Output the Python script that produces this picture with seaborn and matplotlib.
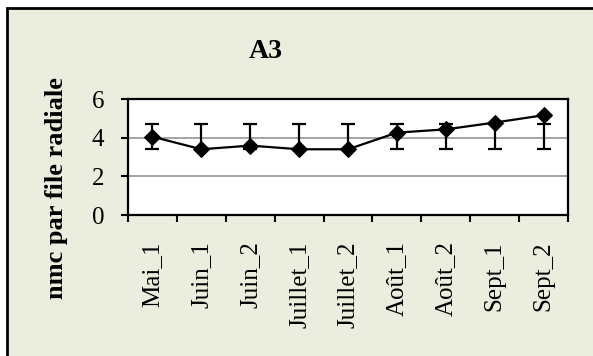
import numpy as np
import pandas as pd
import seaborn as sns
import matplotlib.pyplot as plt
from matplotlib.patches import Rectangle
from matplotlib.ticker import FixedLocator, NullFormatter

# data
periods = ['Mai_1', 'Juin_1', 'Juin_2', 'Juillet_1', 'Juillet_2',
           'Août_1', 'Août_2', 'Sept_1', 'Sept_2']
nmc = [4.05, 3.40, 3.59, 3.40, 3.40, 4.26, 4.43, 4.78, 5.16]
err_low = [3.41, 3.41, 3.41, 3.41, 3.41, 3.41, 3.41, 3.41, 3.41]
err_high = [4.71, 4.71, 4.71, 4.71, 4.71, 4.71, 4.71, 4.71, 4.71]
yticks = [0, 2, 4, 6]

df = pd.DataFrame({'pos': np.arange(len(periods)), 'nmc': nmc,
                   'lo': err_low, 'hi': err_high})

sns.set_style('white')
plt.rcParams['font.family'] = ['Liberation Serif', 'DejaVu Serif']
plt.rcParams['text.color'] = 'black'
plt.rcParams['xtick.color'] = 'black'
plt.rcParams['ytick.color'] = 'black'

W, H = 593, 356
fig = plt.figure(figsize=(W / 100, H / 100), dpi=100)
fig.patch.set_facecolor('white')

# chart area frame (cut off on the right and bottom)
bg = '#EBEEDF'
fig.patches.append(Rectangle((6.5 / W, -0.2), 1.2, 1 - 8 / H + 0.2,
                             transform=fig.transFigure, facecolor=bg,
                             edgecolor='black', linewidth=2, zorder=-5))

ax = fig.add_axes([128 / W, 1 - 215 / H, 440 / W, 116 / H])
ax.set_zorder(2)
ax.set_facecolor('white')

# error bars (min/max span)
mid = (df['lo'] + df['hi']) / 2
half = (df['hi'] - df['lo']) / 2
ax.errorbar(df['pos'], mid, yerr=half, fmt='none', ecolor='black',
            elinewidth=1.6, capsize=4.8, capthick=1.6, zorder=3)

sns.lineplot(data=df, x='pos', y='nmc', ax=ax, color='black', linewidth=1.6,
             marker='D', markersize=8, markeredgecolor='black',
             markerfacecolor='black', sort=False, zorder=4)

ax.set_xlim(-0.5, len(periods) - 0.5)
ax.set_ylim(0, 6)
ax.set_yticks(yticks)
ax.set_yticklabels([str(t) for t in yticks])
for t in [2, 4]:
    ax.axhline(t, color='#8c8c8c', linewidth=1.1, zorder=1)

ax.set_xticks(df['pos'])
ax.set_xticklabels(periods, rotation=90)
ax.xaxis.set_minor_locator(FixedLocator(np.arange(-0.5, len(periods), 1)))
ax.xaxis.set_minor_formatter(NullFormatter())
ax.tick_params(axis='x', which='major', length=0, pad=19, labelsize=18)
ax.tick_params(axis='x', which='minor', length=5, width=1.5, direction='out',
               bottom=True, color='black')
ax.tick_params(axis='y', length=5, width=1.5, direction='out', left=True,
               pad=12, labelsize=18, color='black')
ax.set_xlabel('')
ax.set_ylabel('')
for s in ax.spines.values():
    s.set_visible(True)
    s.set_color('black')
    s.set_linewidth(1.6)

fig.text(266 / W, 1 - 51 / H, 'A3', ha='center', va='center',
         fontsize=20, fontweight='bold')
fig.text(56 / W, 1 - 188 / H, 'nmc par file radiale', ha='center',
         va='center', rotation=90, fontsize=19, fontweight='bold')

fig.savefig('out.png', dpi=100, facecolor=fig.get_facecolor())
